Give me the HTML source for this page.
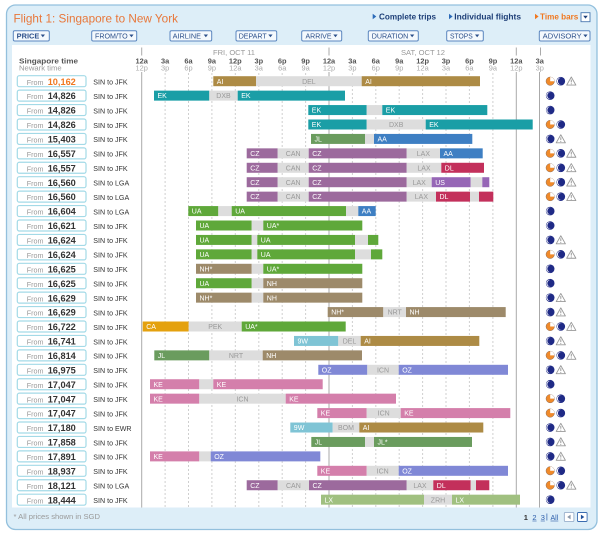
<!DOCTYPE html>
<html><head><meta charset="utf-8"><style>
html,body{margin:0;padding:0;background:#fff;width:600px;height:533px;overflow:hidden}
svg{display:block}
text{font-family:"Liberation Sans",sans-serif}
.pf{font-size:7.2px;fill:#999}
.pv{font-size:9.2px;font-weight:bold;fill:#333}
.rt{font-size:7.1px;fill:#333}
.bl{font-size:7px;fill:#fff}
.gl{font-size:7px;fill:#999;text-anchor:middle}
.tk{font-size:7.4px;font-weight:bold;fill:#555;text-anchor:middle}
.tk2{font-size:7.4px;fill:#aaa;text-anchor:middle}
.btn{fill:#f4f9fd;stroke:#5b86bf;stroke-width:1}
.bt{font-size:7.2px;fill:#2b4f8a}
.bar{fill:#2b4f8a}
.pb{fill:#fff;stroke:#a3dae7;stroke-width:1.2}
.g{fill:#dddddd}.AI{fill:#ad8b45}.EK{fill:#1a9ea6}.JL{fill:#6a9c5e}.AA{fill:#3e7fc3}
.CZ{fill:#9c6a9d}.DL{fill:#c3305b}.US{fill:#9666b6}.UA{fill:#5fa83a}.NH{fill:#9d8a6a}
.CA{fill:#e4a10e}.W9{fill:#7fc4d5}.OZ{fill:#8088d6}.KE{fill:#d47fab}.LX{fill:#a0c080}
.dl{stroke:#cfcfcf;stroke-width:1;stroke-dasharray:2 2}
.sl{stroke:#aaa;stroke-width:1}
</style></head><body>
<svg xmlns="http://www.w3.org/2000/svg" xmlns:xlink="http://www.w3.org/1999/xlink" width="600" height="533" viewBox="0 0 600 533">
<defs>
<g id="io"><circle r="4.2" fill="#f08a2a" stroke="#8a6a5a" stroke-width="0.5"/><path d="M0 0V-4.2A4.2 4.2 0 0 1 4.2 0Z" fill="#fff"/></g>
<g id="im"><circle r="4.3" fill="#1f2a86"/><circle cx="-0.5" r="3.4" fill="#fff"/><circle cx="0.5" r="3.4" fill="#1f2a86"/></g>
<g id="iw"><path d="M0 -4.2L4.6 3.9H-4.6Z" fill="#fff" stroke="#999" stroke-width="0.9" stroke-linejoin="round"/><path d="M0 -1.6V1.2" stroke="#999" stroke-width="1"/><circle cy="2.6" r="0.55" fill="#999"/></g>
</defs>

<rect x="6.5" y="5" width="590.5" height="524.5" rx="9" fill="#ddeef8" stroke="#93c0dd" stroke-width="1.3"/>
<rect x="12" y="45" width="578.5" height="462.5" fill="#fff"/>

<text x="13.5" y="22.3" font-size="11.8" fill="#e8773a" textLength="164.5" lengthAdjust="spacingAndGlyphs">Flight 1: Singapore to New York</text>

<path d="M372.7 13.8L376.3 16.5L372.7 19.2Z" fill="#2b6ab8"/>
<text x="379" y="19.3" font-size="8.2" font-weight="bold" fill="#1d3e77" textLength="57" lengthAdjust="spacingAndGlyphs">Complete trips</text>
<path d="M449 13.8L452.6 16.5L449 19.2Z" fill="#2b6ab8"/>
<text x="454.3" y="19.3" font-size="8.2" font-weight="bold" fill="#1d3e77" textLength="66.7" lengthAdjust="spacingAndGlyphs">Individual flights</text>
<path d="M535 13.8L538.6 16.5L535 19.2Z" fill="#f07820"/>
<text x="540" y="19.3" font-size="8.2" font-weight="bold" fill="#f07820" textLength="38.3" lengthAdjust="spacingAndGlyphs">Time bars</text>
<rect x="581" y="12.7" width="9" height="9" fill="#fff" stroke="#4a78b0" stroke-width="0.9"/>
<path d="M583.2 15.8H587.8L585.5 18.6Z" fill="#1d3e77"/>

<rect class="btn" x="13.3" y="30.7" width="36" height="10.3" rx="1.5"/><text class="bt" x="16.7" y="38.6" font-weight="bold" textLength="22.6" lengthAdjust="spacingAndGlyphs">PRICE</text><path class="bar" d="M40.7 34.5H45L42.85 37.3Z"/>
<rect class="btn" x="91.7" y="30.7" width="45" height="10.3" rx="1.5"/><text class="bt" x="95" y="38.6" textLength="32.7" lengthAdjust="spacingAndGlyphs">FROM/TO</text><path class="bar" d="M129.3 34.5H133.6L131.45 37.3Z"/>
<rect class="btn" x="170" y="30.7" width="41.7" height="10.3" rx="1.5"/><text class="bt" x="172.7" y="38.6" textLength="28.3" lengthAdjust="spacingAndGlyphs">AIRLINE</text><path class="bar" d="M203.7 34.5H208L205.85 37.3Z"/>
<rect class="btn" x="236" y="30.7" width="40.7" height="10.3" rx="1.5"/><text class="bt" x="238.7" y="38.6" textLength="28" lengthAdjust="spacingAndGlyphs">DEPART</text><path class="bar" d="M268.3 34.5H272.6L270.45 37.3Z"/>
<rect class="btn" x="301.7" y="30.7" width="40" height="10.3" rx="1.5"/><text class="bt" x="305.5" y="38.6" textLength="26" lengthAdjust="spacingAndGlyphs">ARRIVE</text><path class="bar" d="M333.3 34.5H337.6L335.45 37.3Z"/>
<rect class="btn" x="368.3" y="30.7" width="50" height="10.3" rx="1.5"/><text class="bt" x="371.7" y="38.6" textLength="36.6" lengthAdjust="spacingAndGlyphs">DURATION</text><path class="bar" d="M410 34.5H414.3L412.15 37.3Z"/>
<rect class="btn" x="446.7" y="30.7" width="36.6" height="10.3" rx="1.5"/><text class="bt" x="450" y="38.6" textLength="22.7" lengthAdjust="spacingAndGlyphs">STOPS</text><path class="bar" d="M475 34.5H479.3L477.15 37.3Z"/>
<rect class="btn" x="539.3" y="30.7" width="50.7" height="10.3" rx="1.5"/><text class="bt" x="542.7" y="38.6" textLength="39" lengthAdjust="spacingAndGlyphs">ADVISORY</text><path class="bar" d="M583.3 34.5H587.6L585.45 37.3Z"/>

<text x="213" y="55" font-size="7.2" fill="#999" textLength="42" lengthAdjust="spacingAndGlyphs">FRI, OCT 11</text>
<text x="401" y="55" font-size="7.2" fill="#999" textLength="44" lengthAdjust="spacingAndGlyphs">SAT, OCT 12</text>
<g class="sl"><line x1="141.7" y1="47.5" x2="141.7" y2="55.5"/><line x1="329" y1="47.5" x2="329" y2="55.5"/><line x1="516.3" y1="47.5" x2="516.3" y2="55.5"/><line x1="540.5" y1="47.5" x2="540.5" y2="55.5"/></g>
<text x="19" y="63.3" font-size="7.6" font-weight="bold" fill="#555" textLength="59" lengthAdjust="spacingAndGlyphs">Singapore time</text>
<text x="19" y="70.7" font-size="7.6" fill="#999" textLength="42.7" lengthAdjust="spacingAndGlyphs">Newark time</text>
<g>
<text class="tk" x="141.7" y="63.3">12a</text><text class="tk" x="165.1" y="63.3">3a</text><text class="tk" x="188.5" y="63.3">6a</text><text class="tk" x="211.9" y="63.3">9a</text><text class="tk" x="235.3" y="63.3">12p</text><text class="tk" x="258.8" y="63.3">3p</text><text class="tk" x="282.2" y="63.3">6p</text><text class="tk" x="305.6" y="63.3">9p</text><text class="tk" x="329" y="63.3">12a</text><text class="tk" x="352.4" y="63.3">3a</text><text class="tk" x="375.8" y="63.3">6a</text><text class="tk" x="399.2" y="63.3">9a</text><text class="tk" x="422.6" y="63.3">12p</text><text class="tk" x="446" y="63.3">3p</text><text class="tk" x="469.4" y="63.3">6p</text><text class="tk" x="492.9" y="63.3">9p</text><text class="tk" x="516.3" y="63.3">12a</text><text class="tk" x="539.7" y="63.3">3a</text>
<text class="tk2" x="141.7" y="70.7">12p</text><text class="tk2" x="165.1" y="70.7">3p</text><text class="tk2" x="188.5" y="70.7">6p</text><text class="tk2" x="211.9" y="70.7">9p</text><text class="tk2" x="235.3" y="70.7">12a</text><text class="tk2" x="258.8" y="70.7">3a</text><text class="tk2" x="282.2" y="70.7">6a</text><text class="tk2" x="305.6" y="70.7">9a</text><text class="tk2" x="329" y="70.7">12p</text><text class="tk2" x="352.4" y="70.7">3p</text><text class="tk2" x="375.8" y="70.7">6p</text><text class="tk2" x="399.2" y="70.7">9p</text><text class="tk2" x="422.6" y="70.7">12a</text><text class="tk2" x="446" y="70.7">3a</text><text class="tk2" x="469.4" y="70.7">6a</text><text class="tk2" x="492.9" y="70.7">9a</text><text class="tk2" x="516.3" y="70.7">12p</text><text class="tk2" x="539.7" y="70.7">3p</text>
</g>

<g class="dl">
<line x1="165.1" y1="73" x2="165.1" y2="507.5"/><line x1="188.5" y1="73" x2="188.5" y2="507.5"/><line x1="211.9" y1="73" x2="211.9" y2="507.5"/><line x1="235.3" y1="73" x2="235.3" y2="507.5"/><line x1="258.8" y1="73" x2="258.8" y2="507.5"/><line x1="282.2" y1="73" x2="282.2" y2="507.5"/><line x1="305.6" y1="73" x2="305.6" y2="507.5"/>
<line x1="352.4" y1="73" x2="352.4" y2="507.5"/><line x1="375.8" y1="73" x2="375.8" y2="507.5"/><line x1="399.2" y1="73" x2="399.2" y2="507.5"/><line x1="422.6" y1="73" x2="422.6" y2="507.5"/><line x1="446" y1="73" x2="446" y2="507.5"/><line x1="469.4" y1="73" x2="469.4" y2="507.5"/><line x1="492.9" y1="73" x2="492.9" y2="507.5"/>
</g>
<g class="sl">
<line x1="141.7" y1="72" x2="141.7" y2="507.5"/><line x1="329" y1="72" x2="329" y2="507.5"/><line x1="516.3" y1="72" x2="516.3" y2="507.5"/><line x1="539.5" y1="72" x2="539.5" y2="507.5"/>
</g>

<g transform="translate(0,81.2)">
<rect class="pb" x="17.3" y="-5.5" width="68.7" height="11" rx="2"/><text class="pf" x="26.7" y="3.6">From</text><text class="pv" x="47.7" y="3.6" style="fill:#f07820">10,162</text><text class="rt" x="93.3" y="3.3">SIN to JFK</text>
<rect class="AI" x="213.3" y="-5" width="42.7" height="10"/><text class="bl" x="216.8" y="2.6">AI</text>
<rect class="g" x="256" y="-5" width="105.7" height="10"/><text class="gl" x="308.9" y="2.6">DEL</text>
<rect class="AI" x="361.7" y="-5" width="118.3" height="10"/><text class="bl" x="365.2" y="2.6">AI</text>
<use xlink:href="#io" x="550.2"/><use xlink:href="#im" x="560.8"/><use xlink:href="#iw" x="571.3"/>
</g>

<g transform="translate(0,95.63)">
<rect class="pb" x="17.3" y="-5.5" width="68.7" height="11" rx="2"/><text class="pf" x="26.7" y="3.6">From</text><text class="pv" x="47.7" y="3.6">14,826</text><text class="rt" x="93.3" y="3.3">SIN to JFK</text>
<rect class="EK" x="154" y="-5" width="55.3" height="10"/><text class="bl" x="157.5" y="2.6">EK</text>
<rect class="g" x="209.3" y="-5" width="28.4" height="10"/><text class="gl" x="223.5" y="2.6">DXB</text>
<rect class="EK" x="237.7" y="-5" width="107.3" height="10"/><text class="bl" x="241.2" y="2.6">EK</text>
<use xlink:href="#im" x="550.2"/>
</g>

<g transform="translate(0,110.06)">
<rect class="pb" x="17.3" y="-5.5" width="68.7" height="11" rx="2"/><text class="pf" x="26.7" y="3.6">From</text><text class="pv" x="47.7" y="3.6">14,826</text><text class="rt" x="93.3" y="3.3">SIN to JFK</text>
<rect class="EK" x="308.3" y="-5" width="58.4" height="10"/><text class="bl" x="311.8" y="2.6">EK</text>
<rect class="g" x="366.7" y="-5" width="15.6" height="10"/>
<rect class="EK" x="382.3" y="-5" width="105" height="10"/><text class="bl" x="385.8" y="2.6">EK</text>
<use xlink:href="#im" x="550.2"/>
</g>

<g transform="translate(0,124.49)">
<rect class="pb" x="17.3" y="-5.5" width="68.7" height="11" rx="2"/><text class="pf" x="26.7" y="3.6">From</text><text class="pv" x="47.7" y="3.6">14,826</text><text class="rt" x="93.3" y="3.3">SIN to JFK</text>
<rect class="EK" x="308.3" y="-5" width="58.4" height="10"/><text class="bl" x="311.8" y="2.6">EK</text>
<rect class="g" x="366.7" y="-5" width="59" height="10"/><text class="gl" x="396.2" y="2.6">DXB</text>
<rect class="EK" x="425.7" y="-5" width="107" height="10"/><text class="bl" x="429.2" y="2.6">EK</text>
<use xlink:href="#io" x="550.2"/><use xlink:href="#im" x="560.8"/>
</g>

<g transform="translate(0,138.92)">
<rect class="pb" x="17.3" y="-5.5" width="68.7" height="11" rx="2"/><text class="pf" x="26.7" y="3.6">From</text><text class="pv" x="47.7" y="3.6">15,403</text><text class="rt" x="93.3" y="3.3">SIN to JFK</text>
<rect class="JL" x="311" y="-5" width="54" height="10"/><text class="bl" x="314.5" y="2.6">JL</text>
<rect class="g" x="365" y="-5" width="9" height="10"/>
<rect class="AA" x="374" y="-5" width="98.3" height="10"/><text class="bl" x="377.5" y="2.6">AA</text>
<use xlink:href="#im" x="550.2"/><use xlink:href="#iw" x="560.8"/>
</g>

<g transform="translate(0,153.35)">
<rect class="pb" x="17.3" y="-5.5" width="68.7" height="11" rx="2"/><text class="pf" x="26.7" y="3.6">From</text><text class="pv" x="47.7" y="3.6">16,557</text><text class="rt" x="93.3" y="3.3">SIN to JFK</text>
<rect class="CZ" x="246.7" y="-5" width="31" height="10"/><text class="bl" x="250.2" y="2.6">CZ</text>
<rect class="g" x="277.7" y="-5" width="31" height="10"/><text class="gl" x="293.2" y="2.6">CAN</text>
<rect class="CZ" x="308.7" y="-5" width="98" height="10"/><text class="bl" x="312.2" y="2.6">CZ</text>
<rect class="g" x="406.7" y="-5" width="33.3" height="10"/><text class="gl" x="423.4" y="2.6">LAX</text>
<rect class="AA" x="440" y="-5" width="42.7" height="10"/><text class="bl" x="443.5" y="2.6">AA</text>
<use xlink:href="#io" x="550.2"/><use xlink:href="#im" x="560.8"/><use xlink:href="#iw" x="571.3"/>
</g>

<g transform="translate(0,167.78)">
<rect class="pb" x="17.3" y="-5.5" width="68.7" height="11" rx="2"/><text class="pf" x="26.7" y="3.6">From</text><text class="pv" x="47.7" y="3.6">16,557</text><text class="rt" x="93.3" y="3.3">SIN to JFK</text>
<rect class="CZ" x="246.7" y="-5" width="31" height="10"/><text class="bl" x="250.2" y="2.6">CZ</text>
<rect class="g" x="277.7" y="-5" width="31" height="10"/><text class="gl" x="293.2" y="2.6">CAN</text>
<rect class="CZ" x="308.7" y="-5" width="98" height="10"/><text class="bl" x="312.2" y="2.6">CZ</text>
<rect class="g" x="406.7" y="-5" width="34.6" height="10"/><text class="gl" x="424" y="2.6">LAX</text>
<rect class="DL" x="441.3" y="-5" width="42.7" height="10"/><text class="bl" x="444.8" y="2.6">DL</text>
<use xlink:href="#io" x="550.2"/><use xlink:href="#im" x="560.8"/><use xlink:href="#iw" x="571.3"/>
</g>

<g transform="translate(0,182.21)">
<rect class="pb" x="17.3" y="-5.5" width="68.7" height="11" rx="2"/><text class="pf" x="26.7" y="3.6">From</text><text class="pv" x="47.7" y="3.6">16,560</text><text class="rt" x="93.3" y="3.3">SIN to LGA</text>
<rect class="CZ" x="246.7" y="-5" width="31" height="10"/><text class="bl" x="250.2" y="2.6">CZ</text>
<rect class="g" x="277.7" y="-5" width="31" height="10"/><text class="gl" x="293.2" y="2.6">CAN</text>
<rect class="CZ" x="308.7" y="-5" width="98" height="10"/><text class="bl" x="312.2" y="2.6">CZ</text>
<rect class="g" x="406.7" y="-5" width="25" height="10"/><text class="gl" x="419.2" y="2.6">LAX</text>
<rect class="US" x="431.7" y="-5" width="39" height="10"/><text class="bl" x="435.2" y="2.6">US</text>
<rect class="g" x="470.7" y="-5" width="11.6" height="10"/>
<rect class="US" x="482.3" y="-5" width="7" height="10"/>
<use xlink:href="#io" x="550.2"/><use xlink:href="#im" x="560.8"/><use xlink:href="#iw" x="571.3"/>
</g>

<g transform="translate(0,196.64)">
<rect class="pb" x="17.3" y="-5.5" width="68.7" height="11" rx="2"/><text class="pf" x="26.7" y="3.6">From</text><text class="pv" x="47.7" y="3.6">16,560</text><text class="rt" x="93.3" y="3.3">SIN to LGA</text>
<rect class="CZ" x="246.7" y="-5" width="31" height="10"/><text class="bl" x="250.2" y="2.6">CZ</text>
<rect class="g" x="277.7" y="-5" width="31" height="10"/><text class="gl" x="293.2" y="2.6">CAN</text>
<rect class="CZ" x="308.7" y="-5" width="98" height="10"/><text class="bl" x="312.2" y="2.6">CZ</text>
<rect class="g" x="406.7" y="-5" width="29.3" height="10"/><text class="gl" x="421.4" y="2.6">LAX</text>
<rect class="DL" x="436" y="-5" width="34" height="10"/><text class="bl" x="439.5" y="2.6">DL</text>
<rect class="g" x="470" y="-5" width="9" height="10"/>
<rect class="DL" x="479" y="-5" width="14.3" height="10"/>
<use xlink:href="#io" x="550.2"/><use xlink:href="#im" x="560.8"/><use xlink:href="#iw" x="571.3"/>
</g>

<g transform="translate(0,211.07)">
<rect class="pb" x="17.3" y="-5.5" width="68.7" height="11" rx="2"/><text class="pf" x="26.7" y="3.6">From</text><text class="pv" x="47.7" y="3.6">16,604</text><text class="rt" x="93.3" y="3.3">SIN to LGA</text>
<rect class="UA" x="188.3" y="-5" width="30" height="10"/><text class="bl" x="191.8" y="2.6">UA</text>
<rect class="g" x="218.3" y="-5" width="13.4" height="10"/>
<rect class="UA" x="231.7" y="-5" width="114.3" height="10"/><text class="bl" x="235.2" y="2.6">UA</text>
<rect class="g" x="346" y="-5" width="12.3" height="10"/>
<rect class="AA" x="358.3" y="-5" width="17.4" height="10"/><text class="bl" x="361.8" y="2.6">AA</text>
<use xlink:href="#im" x="550.2"/>
</g>

<g transform="translate(0,225.5)">
<rect class="pb" x="17.3" y="-5.5" width="68.7" height="11" rx="2"/><text class="pf" x="26.7" y="3.6">From</text><text class="pv" x="47.7" y="3.6">16,621</text><text class="rt" x="93.3" y="3.3">SIN to JFK</text>
<rect class="UA" x="196" y="-5" width="55.7" height="10"/><text class="bl" x="199.5" y="2.6">UA</text>
<rect class="g" x="251.7" y="-5" width="11.6" height="10"/>
<rect class="UA" x="263.3" y="-5" width="99" height="10"/><text class="bl" x="266.8" y="2.6">UA*</text>
<use xlink:href="#im" x="550.2"/>
</g>

<g transform="translate(0,239.93)">
<rect class="pb" x="17.3" y="-5.5" width="68.7" height="11" rx="2"/><text class="pf" x="26.7" y="3.6">From</text><text class="pv" x="47.7" y="3.6">16,624</text><text class="rt" x="93.3" y="3.3">SIN to JFK</text>
<rect class="UA" x="196" y="-5" width="55.7" height="10"/><text class="bl" x="199.5" y="2.6">UA</text>
<rect class="g" x="251.7" y="-5" width="5.6" height="10"/>
<rect class="UA" x="257.3" y="-5" width="97.7" height="10"/><text class="bl" x="260.8" y="2.6">UA</text>
<rect class="g" x="355" y="-5" width="13" height="10"/>
<rect class="UA" x="368" y="-5" width="10.3" height="10"/>
<use xlink:href="#im" x="550.2"/><use xlink:href="#iw" x="560.8"/>
</g>

<g transform="translate(0,254.36)">
<rect class="pb" x="17.3" y="-5.5" width="68.7" height="11" rx="2"/><text class="pf" x="26.7" y="3.6">From</text><text class="pv" x="47.7" y="3.6">16,624</text><text class="rt" x="93.3" y="3.3">SIN to JFK</text>
<rect class="UA" x="196" y="-5" width="55.7" height="10"/><text class="bl" x="199.5" y="2.6">UA</text>
<rect class="g" x="251.7" y="-5" width="5.6" height="10"/>
<rect class="UA" x="257.3" y="-5" width="97.7" height="10"/><text class="bl" x="260.8" y="2.6">UA</text>
<rect class="g" x="355" y="-5" width="16" height="10"/>
<rect class="UA" x="371" y="-5" width="11.3" height="10"/>
<use xlink:href="#io" x="550.2"/><use xlink:href="#im" x="560.8"/><use xlink:href="#iw" x="571.3"/>
</g>

<g transform="translate(0,268.79)">
<rect class="pb" x="17.3" y="-5.5" width="68.7" height="11" rx="2"/><text class="pf" x="26.7" y="3.6">From</text><text class="pv" x="47.7" y="3.6">16,625</text><text class="rt" x="93.3" y="3.3">SIN to JFK</text>
<rect class="NH" x="196" y="-5" width="55.7" height="10"/><text class="bl" x="199.5" y="2.6">NH*</text>
<rect class="g" x="251.7" y="-5" width="11.6" height="10"/>
<rect class="UA" x="263.3" y="-5" width="99" height="10"/><text class="bl" x="266.8" y="2.6">UA*</text>
<use xlink:href="#im" x="550.2"/>
</g>

<g transform="translate(0,283.22)">
<rect class="pb" x="17.3" y="-5.5" width="68.7" height="11" rx="2"/><text class="pf" x="26.7" y="3.6">From</text><text class="pv" x="47.7" y="3.6">16,625</text><text class="rt" x="93.3" y="3.3">SIN to JFK</text>
<rect class="UA" x="196" y="-5" width="55.7" height="10"/><text class="bl" x="199.5" y="2.6">UA</text>
<rect class="g" x="251.7" y="-5" width="11.6" height="10"/>
<rect class="NH" x="263.3" y="-5" width="99" height="10"/><text class="bl" x="266.8" y="2.6">NH</text>
<use xlink:href="#im" x="550.2"/>
</g>

<g transform="translate(0,297.65)">
<rect class="pb" x="17.3" y="-5.5" width="68.7" height="11" rx="2"/><text class="pf" x="26.7" y="3.6">From</text><text class="pv" x="47.7" y="3.6">16,629</text><text class="rt" x="93.3" y="3.3">SIN to JFK</text>
<rect class="NH" x="196" y="-5" width="55.7" height="10"/><text class="bl" x="199.5" y="2.6">NH*</text>
<rect class="g" x="251.7" y="-5" width="11.6" height="10"/>
<rect class="NH" x="263.3" y="-5" width="99" height="10"/><text class="bl" x="266.8" y="2.6">NH</text>
<use xlink:href="#im" x="550.2"/><use xlink:href="#iw" x="560.8"/>
</g>

<g transform="translate(0,312.08)">
<rect class="pb" x="17.3" y="-5.5" width="68.7" height="11" rx="2"/><text class="pf" x="26.7" y="3.6">From</text><text class="pv" x="47.7" y="3.6">16,629</text><text class="rt" x="93.3" y="3.3">SIN to JFK</text>
<rect class="NH" x="327.7" y="-5" width="55.6" height="10"/><text class="bl" x="331.2" y="2.6">NH*</text>
<rect class="g" x="383.3" y="-5" width="22.7" height="10"/><text class="gl" x="394.7" y="2.6">NRT</text>
<rect class="NH" x="406" y="-5" width="99.7" height="10"/><text class="bl" x="409.5" y="2.6">NH</text>
<use xlink:href="#im" x="550.2"/><use xlink:href="#iw" x="560.8"/>
</g>

<g transform="translate(0,326.51)">
<rect class="pb" x="17.3" y="-5.5" width="68.7" height="11" rx="2"/><text class="pf" x="26.7" y="3.6">From</text><text class="pv" x="47.7" y="3.6">16,722</text><text class="rt" x="93.3" y="3.3">SIN to JFK</text>
<rect class="CA" x="142.7" y="-5" width="46" height="10"/><text class="bl" x="146.2" y="2.6">CA</text>
<rect class="g" x="188.7" y="-5" width="53" height="10"/><text class="gl" x="215.2" y="2.6">PEK</text>
<rect class="UA" x="241.7" y="-5" width="104" height="10"/><text class="bl" x="245.2" y="2.6">UA*</text>
<use xlink:href="#io" x="550.2"/><use xlink:href="#im" x="560.8"/><use xlink:href="#iw" x="571.3"/>
</g>

<g transform="translate(0,340.94)">
<rect class="pb" x="17.3" y="-5.5" width="68.7" height="11" rx="2"/><text class="pf" x="26.7" y="3.6">From</text><text class="pv" x="47.7" y="3.6">16,741</text><text class="rt" x="93.3" y="3.3">SIN to JFK</text>
<rect class="W9" x="294" y="-5" width="44.3" height="10"/><text class="bl" x="297.5" y="2.6">9W</text>
<rect class="g" x="338.3" y="-5" width="22.4" height="10"/><text class="gl" x="349.5" y="2.6">DEL</text>
<rect class="AI" x="360.7" y="-5" width="118.6" height="10"/><text class="bl" x="364.2" y="2.6">AI</text>
<use xlink:href="#im" x="550.2"/><use xlink:href="#iw" x="560.8"/>
</g>

<g transform="translate(0,355.37)">
<rect class="pb" x="17.3" y="-5.5" width="68.7" height="11" rx="2"/><text class="pf" x="26.7" y="3.6">From</text><text class="pv" x="47.7" y="3.6">16,814</text><text class="rt" x="93.3" y="3.3">SIN to JFK</text>
<rect class="JL" x="154.3" y="-5" width="55" height="10"/><text class="bl" x="157.8" y="2.6">JL</text>
<rect class="g" x="209.3" y="-5" width="53.4" height="10"/><text class="gl" x="236" y="2.6">NRT</text>
<rect class="NH" x="262.7" y="-5" width="99.3" height="10"/><text class="bl" x="266.2" y="2.6">NH</text>
<use xlink:href="#io" x="550.2"/><use xlink:href="#im" x="560.8"/><use xlink:href="#iw" x="571.3"/>
</g>

<g transform="translate(0,369.8)">
<rect class="pb" x="17.3" y="-5.5" width="68.7" height="11" rx="2"/><text class="pf" x="26.7" y="3.6">From</text><text class="pv" x="47.7" y="3.6">16,975</text><text class="rt" x="93.3" y="3.3">SIN to JFK</text>
<rect class="OZ" x="318.3" y="-5" width="49" height="10"/><text class="bl" x="321.8" y="2.6">OZ</text>
<rect class="g" x="367.3" y="-5" width="31.4" height="10"/><text class="gl" x="383" y="2.6">ICN</text>
<rect class="OZ" x="398.7" y="-5" width="109.3" height="10"/><text class="bl" x="402.2" y="2.6">OZ</text>
<use xlink:href="#im" x="550.2"/><use xlink:href="#iw" x="560.8"/>
</g>

<g transform="translate(0,384.23)">
<rect class="pb" x="17.3" y="-5.5" width="68.7" height="11" rx="2"/><text class="pf" x="26.7" y="3.6">From</text><text class="pv" x="47.7" y="3.6">17,047</text><text class="rt" x="93.3" y="3.3">SIN to JFK</text>
<rect class="KE" x="150" y="-5" width="49.3" height="10"/><text class="bl" x="153.5" y="2.6">KE</text>
<rect class="g" x="199.3" y="-5" width="14" height="10"/>
<rect class="KE" x="213.3" y="-5" width="109.4" height="10"/><text class="bl" x="216.8" y="2.6">KE</text>
<use xlink:href="#im" x="550.2"/>
</g>

<g transform="translate(0,398.66)">
<rect class="pb" x="17.3" y="-5.5" width="68.7" height="11" rx="2"/><text class="pf" x="26.7" y="3.6">From</text><text class="pv" x="47.7" y="3.6">17,047</text><text class="rt" x="93.3" y="3.3">SIN to JFK</text>
<rect class="KE" x="150" y="-5" width="49.3" height="10"/><text class="bl" x="153.5" y="2.6">KE</text>
<rect class="g" x="199.3" y="-5" width="86.4" height="10"/><text class="gl" x="242.5" y="2.6">ICN</text>
<rect class="KE" x="285.7" y="-5" width="110.3" height="10"/><text class="bl" x="289.2" y="2.6">KE</text>
<use xlink:href="#io" x="550.2"/><use xlink:href="#im" x="560.8"/>
</g>

<g transform="translate(0,413.09)">
<rect class="pb" x="17.3" y="-5.5" width="68.7" height="11" rx="2"/><text class="pf" x="26.7" y="3.6">From</text><text class="pv" x="47.7" y="3.6">17,047</text><text class="rt" x="93.3" y="3.3">SIN to JFK</text>
<rect class="KE" x="317.3" y="-5" width="49.4" height="10"/><text class="bl" x="320.8" y="2.6">KE</text>
<rect class="g" x="366.7" y="-5" width="34" height="10"/><text class="gl" x="383.7" y="2.6">ICN</text>
<rect class="KE" x="400.7" y="-5" width="109.6" height="10"/><text class="bl" x="404.2" y="2.6">KE</text>
<use xlink:href="#io" x="550.2"/><use xlink:href="#im" x="560.8"/>
</g>

<g transform="translate(0,427.52)">
<rect class="pb" x="17.3" y="-5.5" width="68.7" height="11" rx="2"/><text class="pf" x="26.7" y="3.6">From</text><text class="pv" x="47.7" y="3.6">17,180</text><text class="rt" x="93.3" y="3.3">SIN to EWR</text>
<rect class="W9" x="290.3" y="-5" width="42.4" height="10"/><text class="bl" x="293.8" y="2.6">9W</text>
<rect class="g" x="332.7" y="-5" width="26.6" height="10"/><text class="gl" x="346" y="2.6">BOM</text>
<rect class="AI" x="359.3" y="-5" width="124" height="10"/><text class="bl" x="362.8" y="2.6">AI</text>
<use xlink:href="#im" x="550.2"/><use xlink:href="#iw" x="560.8"/>
</g>

<g transform="translate(0,441.95)">
<rect class="pb" x="17.3" y="-5.5" width="68.7" height="11" rx="2"/><text class="pf" x="26.7" y="3.6">From</text><text class="pv" x="47.7" y="3.6">17,858</text><text class="rt" x="93.3" y="3.3">SIN to JFK</text>
<rect class="JL" x="311.3" y="-5" width="53.7" height="10"/><text class="bl" x="314.8" y="2.6">JL</text>
<rect class="g" x="365" y="-5" width="9" height="10"/>
<rect class="JL" x="374" y="-5" width="98" height="10"/><text class="bl" x="377.5" y="2.6">JL*</text>
<use xlink:href="#im" x="550.2"/><use xlink:href="#iw" x="560.8"/>
</g>

<g transform="translate(0,456.38)">
<rect class="pb" x="17.3" y="-5.5" width="68.7" height="11" rx="2"/><text class="pf" x="26.7" y="3.6">From</text><text class="pv" x="47.7" y="3.6">17,891</text><text class="rt" x="93.3" y="3.3">SIN to JFK</text>
<rect class="KE" x="150" y="-5" width="49.3" height="10"/><text class="bl" x="153.5" y="2.6">KE</text>
<rect class="g" x="199.3" y="-5" width="11.4" height="10"/>
<rect class="OZ" x="210.7" y="-5" width="109.6" height="10"/><text class="bl" x="214.2" y="2.6">OZ</text>
<use xlink:href="#im" x="550.2"/><use xlink:href="#iw" x="560.8"/>
</g>

<g transform="translate(0,470.81)">
<rect class="pb" x="17.3" y="-5.5" width="68.7" height="11" rx="2"/><text class="pf" x="26.7" y="3.6">From</text><text class="pv" x="47.7" y="3.6">18,937</text><text class="rt" x="93.3" y="3.3">SIN to JFK</text>
<rect class="KE" x="317.3" y="-5" width="49.4" height="10"/><text class="bl" x="320.8" y="2.6">KE</text>
<rect class="g" x="366.7" y="-5" width="32" height="10"/><text class="gl" x="382.7" y="2.6">ICN</text>
<rect class="OZ" x="398.7" y="-5" width="109.3" height="10"/><text class="bl" x="402.2" y="2.6">OZ</text>
<use xlink:href="#io" x="550.2"/><use xlink:href="#im" x="560.8"/>
</g>

<g transform="translate(0,485.24)">
<rect class="pb" x="17.3" y="-5.5" width="68.7" height="11" rx="2"/><text class="pf" x="26.7" y="3.6">From</text><text class="pv" x="47.7" y="3.6">18,121</text><text class="rt" x="93.3" y="3.3">SIN to LGA</text>
<rect class="CZ" x="246.7" y="-5" width="31" height="10"/><text class="bl" x="250.2" y="2.6">CZ</text>
<rect class="g" x="277.7" y="-5" width="31.3" height="10"/><text class="gl" x="293.4" y="2.6">CAN</text>
<rect class="CZ" x="309" y="-5" width="97.7" height="10"/><text class="bl" x="312.5" y="2.6">CZ</text>
<rect class="g" x="406.7" y="-5" width="26.6" height="10"/><text class="gl" x="420" y="2.6">LAX</text>
<rect class="DL" x="433.3" y="-5" width="37.4" height="10"/><text class="bl" x="436.8" y="2.6">DL</text>
<rect class="g" x="470.7" y="-5" width="5.3" height="10"/>
<rect class="DL" x="476" y="-5" width="13.3" height="10"/>
<use xlink:href="#io" x="550.2"/><use xlink:href="#im" x="560.8"/><use xlink:href="#iw" x="571.3"/>
</g>

<g transform="translate(0,499.67)">
<rect class="pb" x="17.3" y="-5.5" width="68.7" height="11" rx="2"/><text class="pf" x="26.7" y="3.6">From</text><text class="pv" x="47.7" y="3.6">18,444</text><text class="rt" x="93.3" y="3.3">SIN to JFK</text>
<rect class="LX" x="321" y="-5" width="103" height="10"/><text class="bl" x="324.5" y="2.6">LX</text>
<rect class="g" x="424" y="-5" width="28" height="10"/><text class="gl" x="438" y="2.6">ZRH</text>
<rect class="LX" x="452" y="-5" width="68" height="10"/><text class="bl" x="455.5" y="2.6">LX</text>
<use xlink:href="#im" x="550.2"/>
</g>

<text x="13.5" y="519" font-size="7" fill="#999" textLength="86.5" lengthAdjust="spacingAndGlyphs">* All prices shown in SGD</text>
<text x="523.7" y="520" font-size="7.5" font-weight="bold" fill="#333">1</text>
<text x="532.4" y="520" font-size="7.5" fill="#2a5caa">2</text>
<line x1="532.4" y1="521" x2="536.6" y2="521" stroke="#2a5caa" stroke-width="0.6"/>
<text x="540.7" y="520" font-size="7.5" fill="#2a5caa">3</text>
<line x1="540.7" y1="521" x2="544.9" y2="521" stroke="#2a5caa" stroke-width="0.6"/>
<line x1="546.9" y1="513.5" x2="546.9" y2="520.5" stroke="#2a5caa" stroke-width="0.7"/>
<text x="550.5" y="520" font-size="7.5" fill="#2a5caa" textLength="7.8" lengthAdjust="spacingAndGlyphs">All</text>
<line x1="550.5" y1="521" x2="558.3" y2="521" stroke="#2a5caa" stroke-width="0.6"/>
<rect x="564.3" y="512.5" width="9.6" height="9" rx="1" fill="#fff" stroke="#8aa4c4" stroke-width="0.8"/>
<path d="M567.2 517L570.6 514.6V519.4Z" fill="#8a98aa"/>
<rect x="577.5" y="512.5" width="9.6" height="9" rx="1" fill="#fff" stroke="#3a6cb0" stroke-width="0.9"/>
<path d="M584.3 517L580.9 514.6V519.4Z" fill="#1f4f9a"/>
</svg>
</body></html>
